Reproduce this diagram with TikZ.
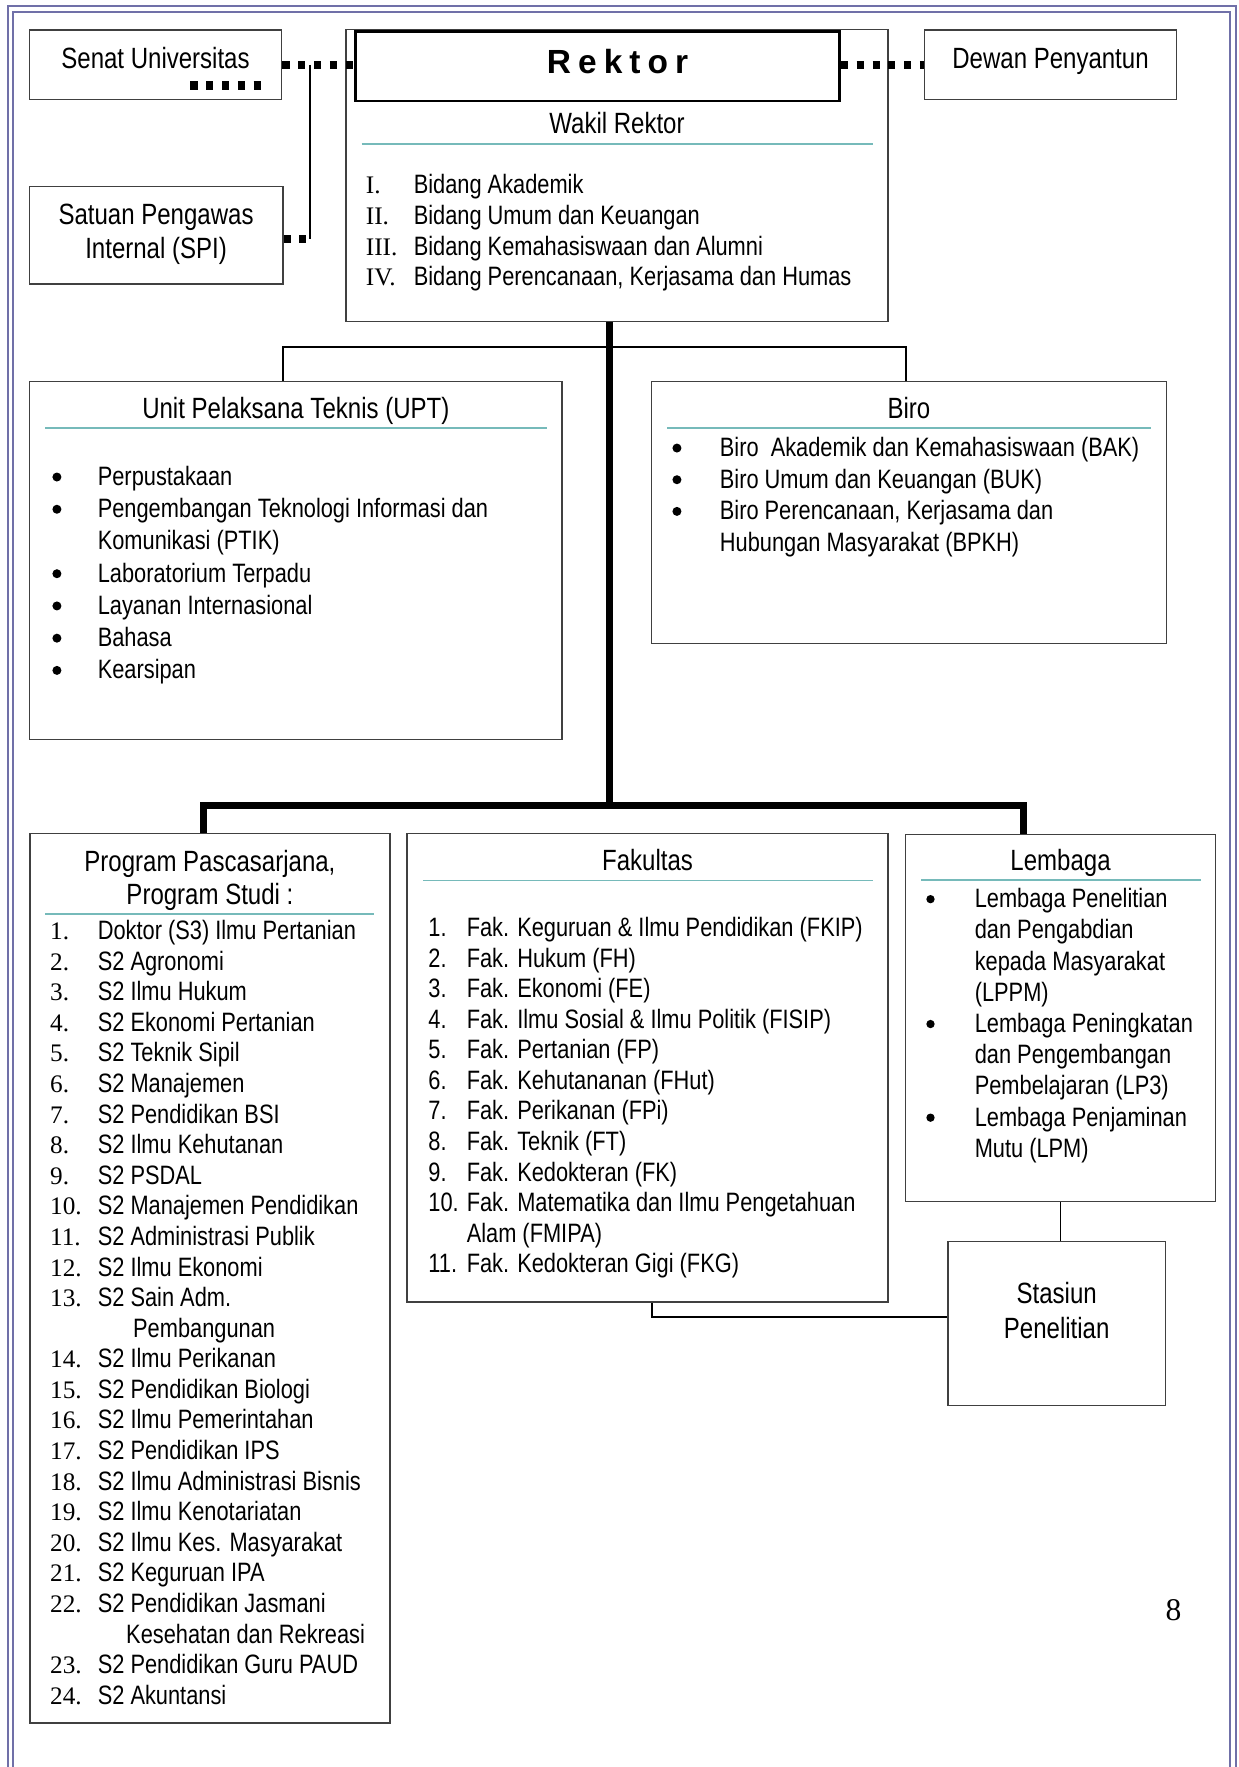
\documentclass[tikz,border=0pt]{standalone}
\usepackage{fontspec}
\setmainfont{Liberation Sans}[FakeStretch=0.82]
\newfontfamily\wideface{Liberation Sans}
\newfontfamily\serifface{Liberation Serif}

\definecolor{framecol}{RGB}{112,112,168}
\definecolor{rulecol}{RGB}{118,186,186}
\definecolor{boxcol}{RGB}{64,64,64}

\newcommand{\headfont}{\fontsize{26pt}{29.5pt}\selectfont}
\newcommand{\listfont}[1]{\fontsize{23.6pt}{#1}\selectfont}
\newcommand{\numfont}{\serifface\fontsize{22.4pt}{27pt}\selectfont}
\newcommand{\romnum}[1]{\makebox[42.5pt][l]{\numfont #1}}
\newcommand{\pasnum}[1]{\makebox[42.3pt][l]{\numfont #1}}
\newcommand{\faknum}[1]{\makebox[34pt][l]{#1}}

\begin{document}
\begin{tikzpicture}[
    x=1pt, y=-1pt,
    unitbox/.style={
        rectangle,
        draw=boxcol,
        line width=1.3pt,
        inner sep=0pt
    },
    headbox/.style={
        rectangle,
        draw=black,
        line width=2.5pt,
        inner sep=0pt
    },
    headtext/.style={
        anchor=base,
        inner sep=0pt,
        font=\headfont
    },
    listtext/.style={
        anchor=base west,
        inner sep=0pt
    },
    sepline/.style={
        draw=rulecol,
        line width=1.3pt
    },
    mainlink/.style={
        line width=6pt
    },
    thinlink/.style={
        line width=1.6pt
    },
    sidelink/.style={
        line width=2.2pt
    },
    dotlink/.style={
        line width=7.4pt,
        dash pattern=on 6.3pt off 7.7pt
    },
    frameline/.style={
        draw=framecol,
        line width=2pt
    }
]
    \useasboundingbox (0,0) rectangle (1099,1568);

    % Page frame (double line, open at the bottom)
    \draw[frameline] (7,1600) -- (7,5.3) -- (1096.6,5.3) -- (1096.6,1600);
    \draw[frameline] (11.8,1600) -- (11.8,10.6) -- (1091.6,10.6) -- (1091.6,1600);

    % Boxes
    \node[unitbox, minimum width=224pt, minimum height=62pt] (senat) at (138,57.5) {};
    \node[unitbox, minimum width=225pt, minimum height=86.4pt] (spi) at (138.5,208.8) {};
    \node[unitbox, minimum width=481pt, minimum height=259.5pt] (rektor) at (547.5,155.75) {};
    \node[headbox, minimum width=429.3pt, minimum height=61.6pt] (rektorhead) at (530.35,58.8) {};
    \node[unitbox, minimum width=223.7pt, minimum height=62pt] (dewan) at (932.15,57.5) {};
    \node[unitbox, minimum width=472.5pt, minimum height=317.9pt] (upt) at (262.55,497.45) {};
    \node[unitbox, minimum width=457pt, minimum height=232.7pt] (biro) at (806.5,454.85) {};
    \node[unitbox, minimum width=319.4pt, minimum height=789.2pt] (pasca) at (186.3,1134.4) {};
    \node[unitbox, minimum width=426.7pt, minimum height=415.9pt] (fakultas) at (574.65,947.55) {};
    \node[unitbox, minimum width=275pt, minimum height=325.8pt] (lembaga) at (941.1,903.4) {};
    \node[unitbox, minimum width=193pt, minimum height=145.4pt] (stasiun) at (937.7,1174.3) {};

    % Titles
    \node[headtext] (senatlabel) at (138,60.6) {Senat Universitas};
    \node[headtext] (dewanlabel) at (932.2,60.6) {Dewan Penyantun};
    \node[headtext] (spilabel) at (138.5,199.6) {\begin{tabular}[t]{@{}c@{}}Satuan Pengawas\\Internal (SPI)\end{tabular}};
    \node[anchor=base, inner sep=0pt, font=\wideface\bfseries\fontsize{29.7pt}{30pt}\selectfont] (rektorlabel) at (548,65.6)
        {R\hspace{0.21em}e\hspace{0.21em}k\hspace{0.21em}t\hspace{0.21em}o\hspace{0.21em}r};
    \node[headtext] (wakillabel) at (547.5,118.3) {Wakil Rektor};
    \node[headtext] (uptlabel) at (262.5,371.7) {Unit Pelaksana Teknis (UPT)};
    \node[headtext] (birolabel) at (806.5,371.7) {Biro};
    \node[headtext] (pascalabel) at (186.3,773.2) {\begin{tabular}[t]{@{}c@{}}Program Pascasarjana,\\Program Studi :\end{tabular}};
    \node[headtext] (faklabel) at (574.65,772.5) {Fakultas};
    \node[headtext] (lembagalabel) at (941.1,772.7) {Lembaga};
    \node[headtext, font=\fontsize{26pt}{30.6pt}\selectfont] (stasiunlabel) at (937.7,1156.7)
        {\begin{tabular}[t]{@{}c@{}}Stasiun\\Penelitian\end{tabular}};

    % Lines under the titles
    \draw[sepline] (321,127.7) -- (774.5,127.7);
    \draw[sepline] (40.3,380) -- (485.7,380);
    \draw[sepline] (592,380) -- (1021,380);
    \draw[sepline] (40,811) -- (331.7,811);
    \draw[sepline] (375.5,781.5) -- (774.7,781.5);
    \draw[sepline] (817.5,780.8) -- (1065.3,780.8);

    % Lists
    \node[listtext, font=\listfont{27.4pt}] (wakillist) at (324.5,171.5) {\begin{tabular}[t]{@{}l@{}}
        \romnum{I.}Bidang Akademik\\
        \romnum{II.}Bidang Umum dan Keuangan\\
        \romnum{III.}Bidang Kemahasiswaan dan Alumni\\
        \romnum{IV.}Bidang Perencanaan, Kerjasama dan Humas
    \end{tabular}};

    \node[listtext, font=\listfont{28.6pt}] (uptlist) at (86.6,430.8) {\begin{tabular}[t]{@{}l@{}}
        Perpustakaan\\
        Pengembangan Teknologi Informasi dan\\
        Komunikasi (PTIK)\\
        Laboratorium Terpadu\\
        Layanan Internasional\\
        Bahasa\\
        Kearsipan
    \end{tabular}};
    \foreach \y in {423.3, 451.9, 509.1, 537.7, 566.3, 594.9}
        \fill[black] (50.5,\y) circle (4pt);

    \node[listtext, font=\listfont{28.1pt}] (birolist) at (638.6,405.1) {\begin{tabular}[t]{@{}l@{}}
        Biro\ \ Akademik dan Kemahasiswaan (BAK)\\
        Biro Umum dan Keuangan (BUK)\\
        Biro Perencanaan, Kerjasama dan\\
        Hubungan Masyarakat (BPKH)
    \end{tabular}};
    \foreach \y in {397.6, 425.7, 453.8}
        \fill[black] (600.7,\y) circle (4pt);

    \node[listtext, font=\listfont{27.14pt}] (pascalist) at (44.3,833.8) {\begin{tabular}[t]{@{}l@{}}
        \pasnum{1.}Doktor (S3) Ilmu Pertanian\\
        \pasnum{2.}S2 Agronomi\\
        \pasnum{3.}S2 Ilmu Hukum\\
        \pasnum{4.}S2 Ekonomi Pertanian\\
        \pasnum{5.}S2 Teknik Sipil\\
        \pasnum{6.}S2 Manajemen\\
        \pasnum{7.}S2 Pendidikan BSI\\
        \pasnum{8.}S2 Ilmu Kehutanan\\
        \pasnum{9.}S2 PSDAL\\
        \pasnum{10.}S2 Manajemen Pendidikan\\
        \pasnum{11.}S2 Administrasi Publik\\
        \pasnum{12.}S2 Ilmu Ekonomi\\
        \pasnum{13.}S2 Sain Adm.\\
        \hspace*{73.7pt}Pembangunan\\
        \pasnum{14.}S2 Ilmu Perikanan\\
        \pasnum{15.}S2 Pendidikan Biologi\\
        \pasnum{16.}S2 Ilmu Pemerintahan\\
        \pasnum{17.}S2 Pendidikan IPS\\
        \pasnum{18.}S2 Ilmu Administrasi Bisnis\\
        \pasnum{19.}S2 Ilmu Kenotariatan\\
        \pasnum{20.}S2 Ilmu Kes. Masyarakat\\
        \pasnum{21.}S2 Keguruan IPA\\
        \pasnum{22.}S2 Pendidikan Jasmani\\
        \hspace*{67.5pt}Kesehatan dan Rekreasi\\
        \pasnum{23.}S2 Pendidikan Guru PAUD\\
        \pasnum{24.}S2 Akuntansi
    \end{tabular}};

    \node[listtext, font=\listfont{27.13pt}] (faklist) at (380,831) {\begin{tabular}[t]{@{}l@{}}
        \faknum{1.}Fak. Keguruan \& Ilmu Pendidikan (FKIP)\\
        \faknum{2.}Fak. Hukum (FH)\\
        \faknum{3.}Fak. Ekonomi (FE)\\
        \faknum{4.}Fak. Ilmu Sosial \& Ilmu Politik (FISIP)\\
        \faknum{5.}Fak. Pertanian (FP)\\
        \faknum{6.}Fak. Kehutananan (FHut)\\
        \faknum{7.}Fak. Perikanan (FPi)\\
        \faknum{8.}Fak. Teknik (FT)\\
        \faknum{9.}Fak. Kedokteran (FK)\\
        \faknum{10.}Fak. Matematika dan Ilmu Pengetahuan\\
        \faknum{}Alam (FMIPA)\\
        \faknum{11.}Fak. Kedokteran Gigi (FKG)
    \end{tabular}};

    \node[listtext, font=\listfont{27.7pt}] (lembagalist) at (864.8,805.4) {\begin{tabular}[t]{@{}l@{}}
        Lembaga Penelitian\\
        dan Pengabdian\\
        kepada Masyarakat\\
        (LPPM)\\
        Lembaga Peningkatan\\
        dan Pengembangan\\
        Pembelajaran (LP3)\\
        Lembaga Penjaminan\\
        Mutu (LPM)
    \end{tabular}};
    \foreach \y in {797.9, 908.7, 991.8}
        \fill[black] (825.7,\y) circle (3.7pt);

    % Page number
    \node[anchor=base, inner sep=0pt, font=\serifface\fontsize{28pt}{30pt}\selectfont] (pagenum) at (1041.3,1438) {8};

    % Senat, SPI and Dewan links
    \coordinate (spijoint) at (275,212);
    \draw[dotlink] (senat.east) -- (senat.east -| rektorhead.west);
    \draw[dotlink] (spi.east |- spijoint) -- (spijoint);
    \draw[dotlink] (rektorhead.east |- dewan.west) -- (dewan.west);
    \draw[sidelink] (spijoint |- senat.east) -- (spijoint);
    % dotted mark inside the Senat box
    \draw[dotlink] (169,76) -- (232,76);

    % Rektor to UPT and Biro
    \coordinate (uptlink) at (250.8,308);
    \coordinate (birolink) at (803.8,308);
    \draw[thinlink] (upt.north -| uptlink) |- (birolink) -- (biro.north -| birolink);

    % Rektor to Pascasarjana and Lembaga
    \coordinate (trunk) at (541,715);
    \coordinate (busleft) at (180.5,715);
    \coordinate (busright) at (908,715);
    \draw[mainlink] (rektor.south -| trunk) -- (trunk);
    \draw[mainlink] (pasca.north -| busleft) |- (busright) -- (lembaga.north -| busright);

    % Stasiun Penelitian
    \coordinate (faklink) at (578.6,1168.4);
    \draw[thinlink] (fakultas.south -| faklink) |- (stasiun.west |- faklink);
    \draw[thinlink] (lembaga.south) -- (lembaga.south |- stasiun.north);

\end{tikzpicture}
\end{document}
